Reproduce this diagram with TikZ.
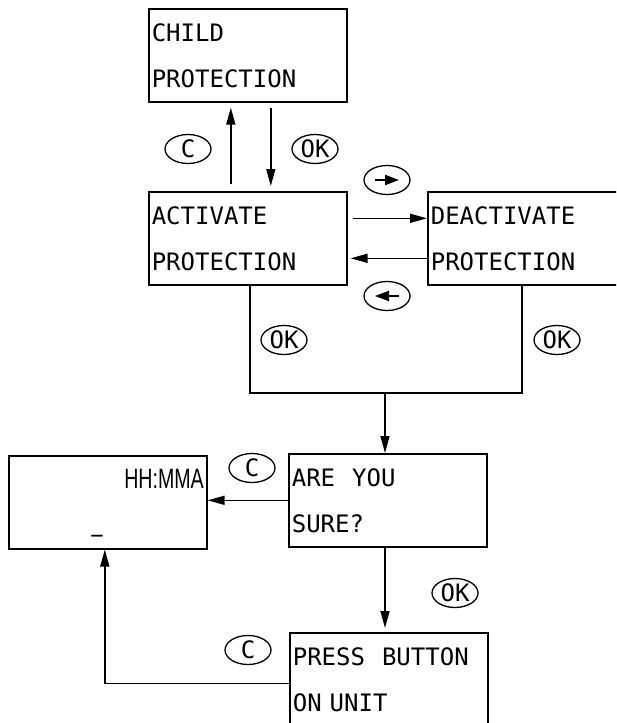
\documentclass[tikz,border=0pt]{standalone}
\usepackage{fontspec}
\usepackage{tikz}
\usetikzlibrary{arrows.meta,shapes.geometric}
\newfontfamily\screenfont{DejaVu Sans Mono}
\newfontfamily\clockfont[FakeStretch=0.7]{Liberation Sans}
\newcommand{\screentext}{\screenfont\fontsize{24pt}{46pt}\selectfont}
\newcommand{\clocktext}{\clockfont\fontsize{28pt}{30pt}\selectfont}
\newcommand{\widegap}{\hspace{9pt} }
\tikzset{
  screen/.style={
    draw,
    line width=1.6pt,
    anchor=north west,
    minimum width=198pt,
    minimum height=93pt,
    inner xsep=3pt,
    text width=192pt,
    align=left,
    font=\screentext
  },
  key/.style={
    ellipse,
    draw,
    line width=1.3pt,
    inner sep=0pt,
    minimum width=46pt,
    minimum height=29pt,
    font=\screentext
  },
  keyarrow/.style={
    key,
    path picture={
      \draw[line width=2pt, -{Triangle[length=14pt,width=10pt]}]
      ([xshift=-#1]path picture bounding box.center) -- ([xshift=#1]path picture bounding box.center);
    }
  },
  flow/.style={line width=1.6pt, -{Triangle[length=17pt,width=9pt]}},
  link/.style={line width=1.6pt}
}

\begin{document}
\begin{tikzpicture}[x=1pt, y=-1pt]
        \useasboundingbox (0,0) rectangle (616,723);
        \clip (0,0) rectangle (616,723);

        % screens
        \node[screen] (child) at (148,8) {CHILD\\PROTECTION};
        \node[screen] (act) at (148,191) {ACTIVATE\\PROTECTION};
        \node[screen] (deact) at (427,191) {DEACTIVATE\\PROTECTION};
        \node[screen] (sure) at (288,453) {ARE\widegap YOU\\SURE?};
        \node[screen, minimum width=197pt] (clock) at (8,455) {};
        \node[screen] (press) at (289,632) {PRESS\widegap BUTTON\\ON UNIT};

        \node[anchor=base east, inner sep=0pt, font=\clocktext] (hhmm) at (204,488) {HH:MMA};
        \node[inner sep=0pt, font=\clocktext] (cursor) at (97,534) {\_};

        % keys
        \node[key] (kc1) at (188,149) {C};
        \node[key] (kok1) at (315,149) {OK};
        \node[keyarrow=12pt] (kright) at (387,180) {};
        \node[keyarrow=-12pt] (kleft) at (387,296) {};
        \node[key] (kok2) at (284,340) {OK};
        \node[key] (kok3) at (557,340) {OK};
        \node[key] (kc2) at (252,468) {C};
        \node[key] (kok4) at (455,593) {OK};
        \node[key] (kc3) at (248,650) {C};

        \coordinate (join) at (385,393);

        % connectors
        \draw[flow, shorten <=7pt, shorten >=5pt] ([xshift=-17pt]act.north) -- ([xshift=-17pt]child.south);
        \draw[flow, shorten <=5pt, shorten >=5pt] ([xshift=23pt]child.south) -- ([xshift=23pt]act.north);
        \draw[flow, shorten <=5pt] ([yshift=20pt]act.east) -- ([yshift=20pt]deact.west);
        \draw[flow, shorten >=3pt] ([yshift=-20pt]deact.west) -- ([yshift=-20pt]act.east);
        \draw[link] ([xshift=2pt]act.south) |- (join) -| ([xshift=-5pt]deact.south);
        \draw[flow] (join) -- (join |- sure.north);
        \draw[flow] (sure.west) -- (sure.west -| clock.east);
        \draw[flow, shorten >=4pt] (join |- sure.south) -- (join |- press.north);
        \draw[flow] ([yshift=-4pt]press.west) -| ([xshift=-3pt]clock.south);
\end{tikzpicture}
\end{document}
